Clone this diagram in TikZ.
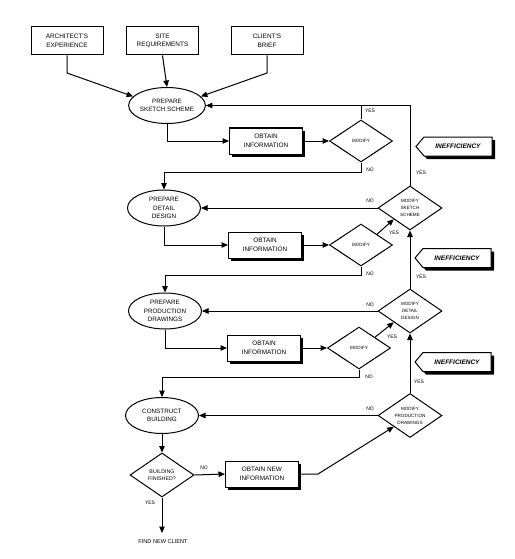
\documentclass[tikz,border=0pt]{standalone}
\usepackage{fontspec}
\setmainfont{Liberation Sans}
\usetikzlibrary{shapes.geometric,shapes.symbols,shadows,arrows.meta}
\begin{document}
\begin{tikzpicture}[x=1pt,y=-1pt,
  line width=1pt,
  arr/.style={-{Triangle[length=6.5pt,width=5.5pt]}},
  plainbox/.style={draw, rectangle, minimum width=72pt, minimum height=28pt, inner sep=0pt, align=center, font=\fontsize{6.4}{8.5}\selectfont},
  shbox/.style={plainbox, minimum width=73pt, minimum height=26pt, fill=white, drop shadow={shadow xshift=2.5pt, shadow yshift=-2.5pt, fill=black, opacity=1}},
  ell/.style={draw, ellipse, minimum width=73pt, minimum height=36pt, inner sep=0pt, align=center, font=\fontsize{6.3}{8.5}\selectfont},
  dia/.style={draw, diamond, aspect=1.5, minimum width=63pt, minimum height=42pt, inner sep=0pt, align=center, font=\fontsize{4.6}{7}\selectfont, fill=white},
  bigdia/.style={dia, minimum width=64pt, minimum height=44pt},
  tagshape/.style={draw, signal, signal to=west, signal pointer angle=100, minimum width=76pt, minimum height=19pt, inner sep=0pt, fill=white, font=\fontsize{6.5}{7}\selectfont\bfseries\itshape, drop shadow={shadow xshift=3pt, shadow yshift=-3pt, fill=black, opacity=1}},
  lbl/.style={font=\fontsize{5}{5}\selectfont, inner sep=0pt}
]
\useasboundingbox (0,0) rectangle (514,559);

% top inputs
\node[plainbox] (A) at (67,41) {ARCHITECT'S\\EXPERIENCE};
\node[plainbox] (S) at (162.5,41) {SITE\\REQUIREMENTS};
\node[plainbox] (C) at (267,41) {CLIENT'S\\BRIEF};

% ellipses
\node[ell] (E1) at (167,105.5) {PREPARE\\SKETCH SCHEME};
\node[ell] (E2) at (164,208) {PREPARE\\DETAIL\\DESIGN};
\node[ell] (E3) at (165,311) {PREPARE\\PRODUCTION\\DRAWINGS};
\node[ell] (E4) at (162,415.5) {CONSTRUCT\\BUILDING};

% obtain information
\node[shbox] (O1) at (266,141) {OBTAIN\\INFORMATION};
\node[shbox] (O2) at (265,245) {OBTAIN\\INFORMATION};
\node[shbox] (O3) at (264,348) {OBTAIN\\INFORMATION};
\node[shbox] (ON) at (262,474) {OBTAIN NEW\\INFORMATION};

% small modify diamonds
\node[dia] (M1) at (361,141) {MODIFY};
\node[dia] (M2) at (361,245) {MODIFY};
\node[dia] (M3) at (359,348) {MODIFY};

% big modify diamonds
\node[bigdia] (MS) at (410,208) {MODIFY\\SKETCH\\SCHEME};
\node[bigdia] (MD) at (410,311) {MODIFY\\DETAIL\\DESIGN};
\node[bigdia] (MP) at (410,415.5) {MODIFY\\PRODUCTION\\DRAWINGS};

% building finished
\node[dia, minimum width=64pt, minimum height=44pt, font=\fontsize{5.3}{7.5}\selectfont] (BF) at (162,475) {BUILDING\\FINISHED?};
\node[font=\fontsize{5.6}{6}\selectfont, inner sep=0pt] (FN) at (163,542) {FIND NEW CLIENT};
\coordinate (FNtop) at (162,533);

% inefficiency tags
\node[tagshape] (T1) at (458,146.5) {INEFFICIENCY};
\node[tagshape] (T2) at (457,258) {INEFFICIENCY};
\node[tagshape] (T3) at (457,362) {INEFFICIENCY};

% input arrows
\draw[arr] (A.south) -- (67,73) -- (E1.165);
\draw[arr] (S.south) -- (E1.north);
\draw[arr] (C.south) -- (267,73) -- (E1.15);

% stage 1
\draw[arr] (E1.south) |- (O1.west);
\draw[arr] (O1.east) -- (M1.west);
\draw[arr] (MS.north) |- (E1.east);
\draw (M1.north) -- (M1.north |- E1.east);
\draw[arr] (M1.south) -- ++(0,10) -| (E2.north);

% stage 2
\draw[arr] (MS.west) -- (E2.east);
\draw[arr] (E2.south) |- (O2.west);
\draw[arr] (O2.east) -- (M2.west);
\draw[arr] (M2.north east) -- (MS.south west);
\draw[arr] (MD.north) -- (MS.south);
\draw[arr] (M2.south) -- ++(0,9) -| (E3.north);

% stage 3
\draw[arr] (MD.west) -- (E3.east);
\draw[arr] (E3.south) |- (O3.west);
\draw[arr] (O3.east) -- (M3.west);
\draw[arr] (M3.north east) -- (MD.south west);
\draw[arr] (MP.north) -- (MD.south);
\draw[arr] (M3.south) -- ++(0,8) -| (E4.north);

% stage 4
\draw[arr] (MP.west) -- (E4.east);
\draw[arr] (E4.south) -- (BF.north);
\draw[arr] (BF.east) -- (ON.west);
\draw[arr] (ON.east) -- (318,474) -- (MP.south west);
\draw[arr] (BF.south) -- (FNtop);

% labels
\node[lbl] (l1) at (370,111) {YES};
\node[lbl] (l2) at (370,170) {NO};
\node[lbl] (l3) at (421,173) {YES};
\node[lbl] (l4) at (370,201) {NO};
\node[lbl] (l5) at (394,233) {YES};
\node[lbl] (l6) at (370,274) {NO};
\node[lbl] (l7) at (421,277) {YES};
\node[lbl] (l8) at (370,305) {NO};
\node[lbl] (l9) at (392,337) {YES};
\node[lbl] (l10) at (369,377) {NO};
\node[lbl] (l11) at (419,382) {YES};
\node[lbl] (l12) at (370,409) {NO};
\node[lbl] (l13) at (204,468) {NO};
\node[lbl] (l14) at (150,503) {YES};
\end{tikzpicture}
\end{document}
